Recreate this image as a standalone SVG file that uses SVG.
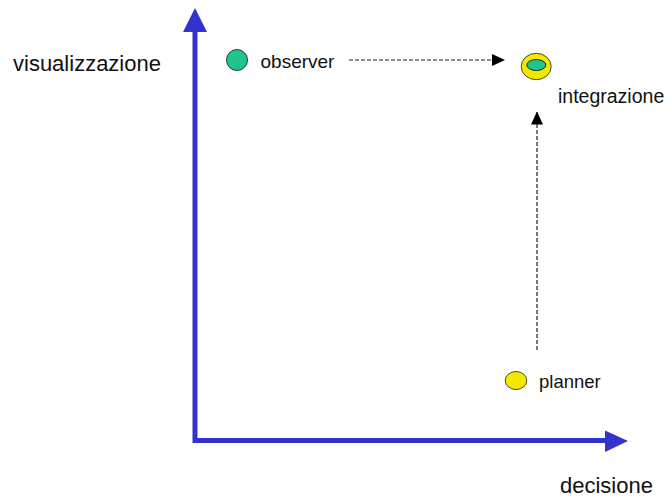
<svg xmlns="http://www.w3.org/2000/svg" width="667" height="497" viewBox="0 0 667 497">
<style>
.lbl{font-family:"Liberation Sans",Arial,sans-serif;fill:#111}
.axis{stroke:#3333cc;stroke-width:5;fill:none}
.dash{stroke:#222;stroke-width:1.2;stroke-dasharray:4 2;fill:none}
</style>
<defs>
<marker id="ah" markerWidth="13" markerHeight="12" refX="13" refY="6" orient="auto" markerUnits="userSpaceOnUse">
<path d="M0,0 L13,6 L0,12 Z" fill="#000"/>
</marker>
</defs>
<rect width="667" height="497" fill="#fff"/>
<g id="axes">
<polyline class="axis" points="195,30 195,440.5 607,440.5"/>
<polygon points="195,8 207,32 183,32" fill="#3333cc"/>
<polygon points="628,441 605,430.5 605,452" fill="#3333cc"/>
</g>
<text class="lbl" x="13" y="71" font-size="22">visualizzazione</text>
<text class="lbl" x="560" y="493" font-size="22">decisione</text>
<g id="connectors">
<line class="dash" x1="349" y1="60" x2="505" y2="60" marker-end="url(#ah)"/>
<line class="dash" x1="537" y1="350" x2="537" y2="111.5" marker-end="url(#ah)"/>
</g>
<g id="observer">
<circle cx="237" cy="60" r="10.5" fill="#1fc48f" stroke="#2a3a30" stroke-width="1"/>
<text class="lbl" x="260.5" y="67.5" font-size="19">observer</text>
</g>
<g id="integrazione">
<ellipse cx="536.2" cy="66.5" rx="15" ry="13.2" fill="#f5e800" stroke="#4a4a20" stroke-width="1"/>
<ellipse cx="536.3" cy="65" rx="9.5" ry="5.5" fill="#1fc48f" stroke="#1a2a20" stroke-width="1"/>
<text class="lbl" x="558" y="102.5" font-size="19.5">integrazione</text>
</g>
<g id="planner">
<ellipse cx="516" cy="380.5" rx="10.8" ry="9" fill="#f5e800" stroke="#4a4a20" stroke-width="1"/>
<text class="lbl" x="539" y="387.5" font-size="18.5">planner</text>
</g>
</svg>
